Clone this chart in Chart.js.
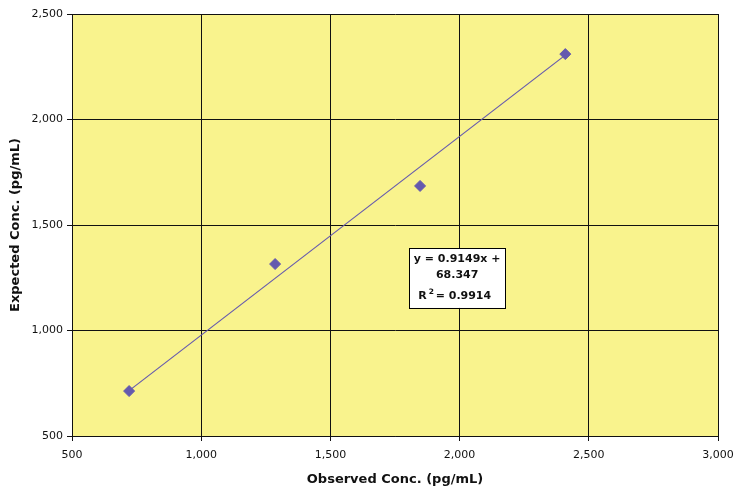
<!DOCTYPE html>
<html>
<head>
<meta charset="utf-8">
<script src="https://cdn.jsdelivr.net/npm/chart.js@4"></script>
<style>
  html, body { margin: 0; padding: 0; background: #fff; }
  #wrap { width: 734px; height: 487px; }
</style>
</head>
<body>
<div id="wrap"><canvas id="c"></canvas></div>
<script>
// ── Data ─────────────────────────────────────────────────────────────────────
const observed = [721, 1286, 1847, 2409]
const expected = [713, 1315, 1685, 2310]
// trendline end points, as drawn in the picture
const trendX = [721, 2409]
const trendY = [715, 2305]
const xTicks = [500, 1000, 1500, 2000, 2500, 3000]
const yTicks = [500, 1000, 1500, 2000, 2500]
const labelLines = ['y = 0.9149x +', '68.347']
const r2Text = '0.9914'

const PLOT_BG = '#F9F38D'
const MARK = '#6559AE'
const FONT = "'DejaVu Sans', sans-serif"

const fmt = (v) => v.toLocaleString('en-US')

// yellow plot background
const plotBg = {
    id: 'plotBg',
    beforeDraw(chart) {
        const { ctx, chartArea: a } = chart
        ctx.save()
        ctx.fillStyle = PLOT_BG
        ctx.fillRect(a.left, a.top, a.right - a.left, a.bottom - a.top)
        ctx.restore()
    },
}

// regression label box, anchored in data units
const eqBox = {
    id: 'eqBox',
    afterDatasetsDraw(chart) {
        const { ctx, scales: { x, y } } = chart
        const l = x.getPixelForValue(1805), r = x.getPixelForValue(2176)
        const t = y.getPixelForValue(1391), b = y.getPixelForValue(1107)
        ctx.save()
        ctx.fillStyle = '#fff'
        ctx.fillRect(l, t, r - l, b - t)
        ctx.strokeStyle = '#000'
        ctx.lineWidth = 1
        ctx.strokeRect(Math.round(l) + 0.5, Math.round(t) + 0.5, Math.round(r - l), Math.round(b - t))
        ctx.fillStyle = '#111'
        ctx.font = 'bold 11px ' + FONT
        ctx.textBaseline = 'middle'
        ctx.textAlign = 'center'
        const cx = (l + r) / 2
        ctx.fillText(labelLines[0], cx, t + 11)
        ctx.fillText(labelLines[1], cx, t + 27)
        ctx.textAlign = 'left'
        ctx.fillText('R', l + 9, t + 48)
        const rw = ctx.measureText('R').width
        ctx.font = 'bold 7.5px ' + FONT
        ctx.fillText('2', l + 11 + rw, t + 44)
        ctx.font = 'bold 11px ' + FONT
        ctx.fillText('= ' + r2Text, l + 18 + rw, t + 48)
        ctx.restore()
    },
}

new Chart(document.getElementById('c'), {
    type: 'scatter',
    data: {
        datasets: [
            {
                data: observed.map((v, i) => ({ x: v, y: expected[i] })),
                pointStyle: 'rectRot',
                pointRadius: 5.5,
                backgroundColor: MARK,
                borderColor: MARK,
                borderWidth: 1,
            },
            {
                type: 'line',
                data: trendX.map((v, i) => ({ x: v, y: trendY[i] })),
                borderColor: MARK,
                borderWidth: 1.2,
                pointRadius: 0,
                fill: false,
            },
        ],
    },
    options: {
        responsive: true,
        maintainAspectRatio: false,
        animation: false,
        layout: { padding: { top: 14, right: 0, left: 8, bottom: 0 } },
        plugins: { legend: { display: false }, tooltip: { enabled: false } },
        scales: {
            x: {
                type: 'linear',
                min: 500, max: 3000,
                afterBuildTicks: (s) => { s.ticks = xTicks.map(v => ({ value: v })) },
                afterFit: (s) => { s.height = 51; s.paddingRight = 16; s.paddingLeft = 0 },
                grid: { color: '#111', lineWidth: 1, tickLength: 5, drawTicks: true },
                border: { color: '#111', width: 1 },
                ticks: {
                    color: '#111', padding: 8,
                    font: { family: FONT, size: 11 },
                    callback: fmt,
                },
                title: {
                    display: true, text: 'Observed Conc. (pg/mL)', color: '#111',
                    font: { family: FONT, size: 13, weight: 'bold' },
                    padding: { top: 3, bottom: 0 },
                },
            },
            y: {
                type: 'linear',
                min: 500, max: 2500,
                afterBuildTicks: (s) => { s.ticks = yTicks.map(v => ({ value: v })) },
                afterFit: (s) => { s.width = 64; s.paddingTop = 0; s.paddingBottom = 0 },
                grid: { color: '#111', lineWidth: 1, tickLength: 5, drawTicks: true },
                border: { color: '#111', width: 1 },
                ticks: {
                    color: '#111', padding: 4,
                    font: { family: FONT, size: 11 },
                    callback: fmt,
                },
                title: {
                    display: true, text: 'Expected Conc. (pg/mL)', color: '#111',
                    font: { family: FONT, size: 13, weight: 'bold' },
                    padding: { top: 0, bottom: 4 },
                },
            },
        },
    },
    plugins: [plotBg, eqBox],
})
</script>
</body>
</html>
